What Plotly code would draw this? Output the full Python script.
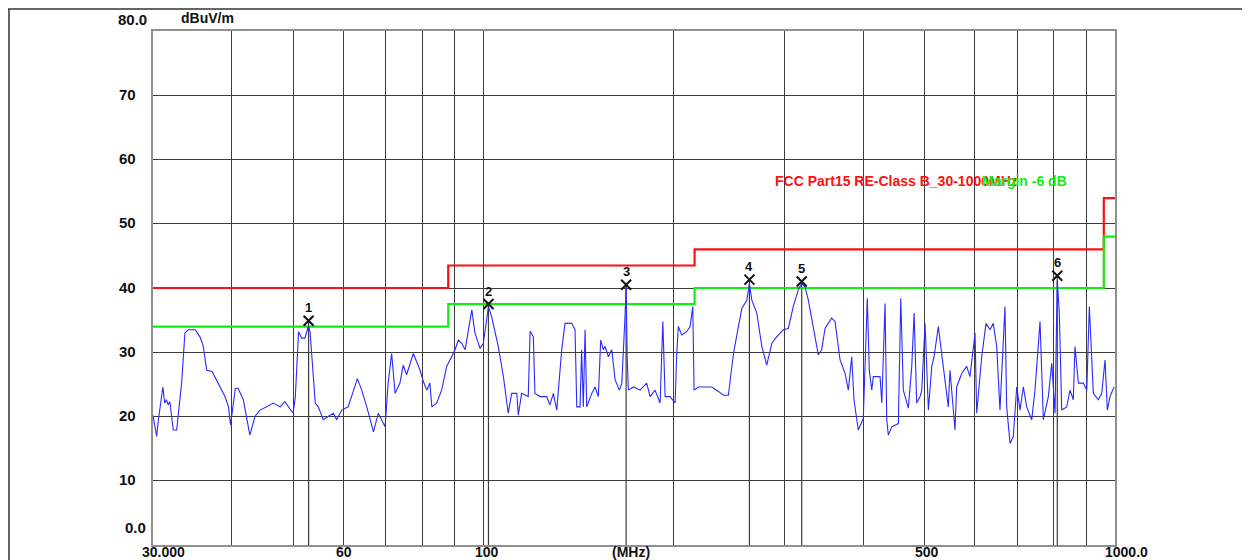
import math
import plotly.graph_objects as go

# ---------------- data ----------------
trace_freq = [30.0, 30.4, 30.6, 31.1, 31.3, 31.5, 31.7, 31.9, 32.3, 32.7, 33.3, 33.7, 34.1, 35.0, 35.6, 36.0,
              36.5, 37.2, 37.8, 39.0, 39.5, 39.8, 40.5, 40.9, 41.7, 42.7, 43.5, 44.3, 45.4, 46.5, 47.7, 48.5,
              50.0, 50.4, 51.0, 51.6, 52.2, 52.9, 53.2, 53.5, 54.2, 54.8, 55.8, 56.8, 57.9, 58.6, 59.7, 61.1,
              62.3, 63.2, 64.2, 65.4, 67.0, 68.2, 69.9, 70.7, 71.6, 72.5, 73.8, 74.7, 75.6, 77.5, 79.4, 80.4,
              81.4, 82.3, 82.9, 84.4, 85.9, 87.5, 89.1, 90.2, 91.3, 92.4, 93.6, 94.7, 95.9, 97.0, 98.8, 100.0,
              101.9, 103.1, 105.6, 107.6, 109.5, 110.9, 113.0, 113.6, 115.0, 117.8, 118.6, 120.0, 120.7, 123.0,
              126.0, 127.5, 129.1, 130.7, 133.1, 134.7, 138.0, 139.7, 140.6, 142.3, 143.1, 144.0, 144.9, 145.8,
              148.5, 150.3, 152.1, 153.4, 154.9, 155.8, 157.8, 159.7, 161.7, 164.2, 165.7, 167.6, 168.3, 169.0,
              169.7, 172.8, 177.1, 181.4, 183.7, 187.0, 190.5, 192.4, 194.0, 197.5, 201.2, 202.4, 203.6, 206.1,
              209.9, 212.5, 214.6, 215.6, 219.0, 224.4, 230.0, 235.6, 239.9, 244.3, 248.9, 253.4, 256.6, 261.3,
              263.8, 266.1, 271.0, 276.0, 281.0, 286.2, 291.4, 298.5, 304.0, 309.5, 315.2, 319.2, 323.0, 327.0,
              333.0, 339.1, 343.3, 347.5, 356.0, 360.4, 367.1, 373.8, 378.3, 383.0, 386.2, 392.3, 399.5, 405.4,
              408.4, 412.0, 414.5, 424.7, 427.4, 432.5, 435.2, 437.7, 443.2, 454.0, 458.0, 462.3, 470.8, 476.7,
              480.8, 485.4, 491.4, 494.4, 500.4, 506.5, 512.8, 517.1, 525.2, 534.9, 544.6, 548.0, 558.1, 561.5,
              571.9, 582.4, 589.4, 600.4, 604.0, 615.2, 624.9, 634.1, 641.7, 649.7, 657.5, 669.6, 673.8, 682.1,
              690.3, 698.9, 707.4, 715.9, 724.8, 738.2, 747.1, 760.9, 770.1, 784.3, 794.1, 803.6, 810.3, 816.3,
              823.5, 838.7, 848.8, 859.0, 864.3, 875.0, 891.0, 902.2, 910.7, 924.1, 941.0, 952.8, 964.3, 972.5,
              982.0, 996.6]
trace_level = [20.2, 16.9, 19.5, 24.6, 22.1, 22.6, 21.8, 22.3, 17.9, 17.9, 25.2, 33.0, 33.5, 33.5, 32.4, 31.1,
               27.2, 27.0, 25.7, 23.1, 21.5, 18.7, 24.4, 24.4, 22.6, 17.1, 20.0, 21.0, 21.5, 22.1, 21.5, 22.3,
               20.5, 23.1, 33.2, 32.2, 32.2, 34.2, 33.0, 29.8, 22.1, 21.5, 19.5, 20.0, 20.5, 19.5, 21.0, 21.5,
               24.1, 25.9, 24.1, 21.5, 17.6, 20.5, 18.4, 25.2, 29.8, 23.6, 25.2, 28.0, 26.5, 29.8, 27.2, 25.4,
               24.1, 25.2, 21.5, 22.1, 24.1, 27.8, 29.3, 30.4, 31.9, 31.4, 30.4, 33.5, 36.6, 33.0, 30.6, 31.4,
               37.1, 35.5, 30.9, 26.2, 20.5, 23.6, 23.6, 20.2, 23.6, 23.1, 33.3, 32.4, 23.6, 23.1,
               23.1, 21.8, 23.6, 21.0, 30.4, 34.5, 34.5, 33.5, 21.5, 21.5, 30.4, 21.5, 33.5, 21.5,
               23.6, 24.6, 23.1, 31.9, 30.4, 30.9, 29.3, 30.4, 25.7, 24.1, 25.2, 35.5, 40.2, 28.8,
               24.1, 24.6, 24.1, 25.2, 23.1, 24.1, 22.1, 34.8, 23.1, 23.1, 22.1, 29.8, 34.0, 32.7,
               33.2, 34.0, 37.1, 24.1, 24.6, 24.6, 24.6, 23.9, 23.3, 23.3, 29.8, 34.0, 36.8, 38.1,
               40.7, 38.1, 36.1, 30.9, 28.0, 31.4, 32.4, 33.5, 33.7, 37.1, 39.7, 40.7, 40.2, 38.1,
               33.5, 29.6, 30.4, 33.7, 35.3, 34.8, 28.8, 26.7, 24.1, 29.3, 22.6, 17.9, 19.7, 38.4,
               27.2, 24.1, 26.2, 26.2, 22.1, 37.6, 19.5, 17.1, 18.4, 18.9, 38.4, 24.1, 21.3, 27.8,
               36.1, 22.1, 23.1, 24.1, 34.5, 21.0, 27.8, 29.3, 34.0, 27.2, 21.5, 27.2, 17.9, 24.6,
               26.7, 27.8, 26.2, 33.0, 20.5, 29.3, 34.5, 33.5, 34.5, 30.9, 21.0, 37.1, 21.5, 15.8,
               16.9, 24.6, 21.0, 24.6, 21.5, 19.5, 24.1, 34.8, 19.5, 23.1, 28.3, 20.5, 41.2, 36.1,
               21.0, 21.5, 24.1, 22.6, 30.9, 25.2, 25.2, 24.1, 37.1, 23.6, 22.6, 23.6, 28.8, 21.0,
               23.1, 24.6]

limit_edges = [30, 88, 216, 960, 1000]          # MHz
limit_levels = [40.0, 43.5, 46.0, 54.0]         # dBuV/m, FCC Part15 Class B
margin_db = 6.0

marker_ids = ["1", "2", "3", "4", "5", "6"]
marker_freq = [52.9, 101.9, 168.3, 263.8, 319.2, 810.3]
marker_level = [34.9, 37.5, 40.5, 41.3, 41.0, 41.9]

x_grid = [40, 50, 60, 70, 80, 90, 100, 200, 300, 400, 500, 600, 700, 800, 900]
y_grid = [10, 20, 30, 40, 50, 60, 70]
y_labels = ["10", "20", "30", "40", "50", "60", "70"]

# ---------------- figure ----------------
GRID = "#3c3c3c"
FONT = "Liberation Sans, Arial, sans-serif"

fig = go.Figure()

# marker vertical lines
for f, lv in zip(marker_freq, marker_level):
    fig.add_trace(go.Scatter(x=[f, f], y=[0, lv], mode="lines",
                             line=dict(color=GRID, width=1.2),
                             hoverinfo="skip", showlegend=False))

# limit + margin lines
lim_x = limit_edges
lim_y = limit_levels + [limit_levels[-1]]
mar_y = [v - margin_db for v in lim_y]
fig.add_trace(go.Scatter(x=lim_x, y=lim_y, mode="lines", line_shape="hv",
                         line=dict(color="#ff1010", width=2.2), showlegend=False))
fig.add_trace(go.Scatter(x=lim_x, y=mar_y, mode="lines", line_shape="hv",
                         line=dict(color="#10ee10", width=2.2), showlegend=False))

# measured trace
fig.add_trace(go.Scatter(x=trace_freq, y=trace_level, mode="lines",
                         line=dict(color="#2a2aff", width=1.1), showlegend=False))

# peak markers
fig.add_trace(go.Scatter(x=marker_freq, y=marker_level, mode="markers",
                         marker=dict(symbol="x-thin", size=10,
                                     line=dict(color="#111111", width=2)),
                         showlegend=False))

anns = []
for mid, f, lv in zip(marker_ids, marker_freq, marker_level):
    anns.append(dict(x=math.log10(f), y=lv, xref="x", yref="y", text="<b>%s</b>" % mid,
                     showarrow=False, yshift=13, font=dict(family=FONT, size=13, color="#111")))

# y labels
for v, t in zip(y_grid, y_labels):
    anns.append(dict(x=-0.0374, y=v, xref="paper", yref="y", text="<b>%s</b>" % t,
                     xanchor="left", yanchor="middle", yshift=1, showarrow=False,
                     font=dict(family=FONT, size=15, color="#111")))
anns.append(dict(x=-0.0385, y=80, xref="paper", yref="y", text="<b>80.0</b>",
                 xanchor="left", yanchor="middle", yshift=12, showarrow=False,
                 font=dict(family=FONT, size=15, color="#111")))
anns.append(dict(x=-0.005, y=0, xref="paper", yref="y", text="<b>0.0</b>",
                 xanchor="right", yanchor="middle", yshift=18, showarrow=False,
                 font=dict(family=FONT, size=15, color="#111")))
anns.append(dict(x=0.027, y=80, xref="paper", yref="y", text="<b>dBuV/m</b>",
                 xanchor="left", yanchor="middle", yshift=13, showarrow=False,
                 font=dict(family=FONT, size=14, color="#111")))

# x labels
for f, t, sh in [(30, "30.000", 10), (60, "60", 1), (100, "100", 4), (500, "500", 2), (1000, "1000.0", 11)]:
    anns.append(dict(x=math.log10(f), y=0, xref="x", yref="paper", text="<b>%s</b>" % t,
                     xanchor="center", yanchor="middle", xshift=sh, yshift=-7, showarrow=False,
                     font=dict(family=FONT, size=14, color="#111")))
anns.append(dict(x=0.497, y=0, xref="paper", yref="paper", text="<b>(MHz)</b>",
                 xanchor="center", yanchor="middle", yshift=-7, showarrow=False,
                 font=dict(family=FONT, size=14, color="#111")))

# legend texts
anns.append(dict(x=0.6445, y=56.6, xref="paper", yref="y", text="<b>FCC Part15 RE-Class B_30-1000MHz</b>",
                 xanchor="left", yanchor="middle", showarrow=False,
                 font=dict(family=FONT, size=14, color="#ff1010")))
anns.append(dict(x=0.8597, y=56.6, xref="paper", yref="y", text="<b>Margin -6 dB</b>",
                 xanchor="left", yanchor="middle", showarrow=False,
                 font=dict(family=FONT, size=14, color="#10ee10")))

shapes = [
    dict(type="line", xref="paper", yref="paper", x0=-0.1507, x1=1.15, y0=1.0428, y1=1.0428,
         line=dict(color="#333", width=1.5)),
    dict(type="line", xref="paper", yref="paper", x0=-0.1497, x1=-0.1497, y0=1.0428, y1=-0.05,
         line=dict(color="#333", width=1.5)),
]

fig.update_layout(
    width=1242, height=552,
    margin=dict(l=145, r=135, t=23, b=15),
    paper_bgcolor="white", plot_bgcolor="white",
    showlegend=False,
    annotations=anns, shapes=shapes,
    xaxis=dict(type="log", range=[math.log10(30), math.log10(1000)],
               tickvals=x_grid, showticklabels=False, ticks="",
               showgrid=True, gridcolor=GRID, gridwidth=1.2, zeroline=False,
               showline=True, mirror=True, linecolor="#8f8f8f", linewidth=2),
    yaxis=dict(range=[0, 80], tickvals=y_grid, showticklabels=False, ticks="",
               showgrid=True, gridcolor=GRID, gridwidth=1.2, zeroline=False,
               showline=True, mirror=True, linecolor="#8f8f8f", linewidth=2),
)

fig.write_html("out.html")
